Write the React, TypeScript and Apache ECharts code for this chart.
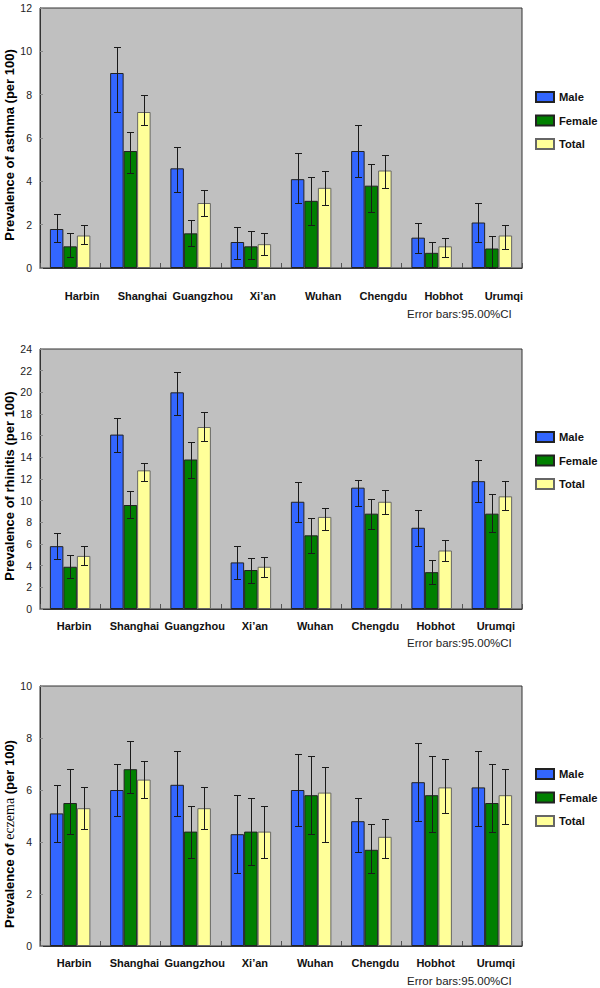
import React, { useEffect, useRef } from "react";
import * as echarts from "echarts";

const categories = ["Harbin", "Shanghai", "Guangzhou", "Xi’an", "Wuhan", "Chengdu", "Hobhot", "Urumqi"];
const seriesNames = ["Male", "Female", "Total"];

const asthmaMale = [1.8, 9.0, 4.6, 1.2, 4.1, 5.4, 1.4, 2.1];
const asthmaMaleLow = [1.2, 7.2, 3.5, 0.4, 3.0, 4.2, 0.7, 1.2];
const asthmaMaleHigh = [2.5, 10.2, 5.6, 1.9, 5.3, 6.6, 2.1, 3.0];
const asthmaFemale = [1.0, 5.4, 1.6, 1.0, 3.1, 3.8, 0.7, 0.9];
const asthmaFemaleLow = [0.5, 4.4, 1.0, 0.4, 2.0, 2.6, 0.05, 0.0];
const asthmaFemaleHigh = [1.6, 6.3, 2.2, 1.7, 4.2, 4.8, 1.2, 1.5];
const asthmaTotal = [1.5, 7.2, 3.0, 1.1, 3.7, 4.5, 1.0, 1.5];
const asthmaTotalLow = [1.1, 6.6, 2.4, 0.6, 2.9, 3.7, 0.5, 0.9];
const asthmaTotalHigh = [2.0, 8.0, 3.6, 1.6, 4.5, 5.2, 1.4, 2.0];

const rhinitisMale = [5.8, 16.1, 20.0, 4.3, 9.9, 11.2, 7.5, 11.8];
const rhinitisMaleLow = [4.6, 14.5, 17.9, 2.8, 8.0, 9.5, 5.8, 9.9];
const rhinitisMaleHigh = [7.0, 17.6, 21.9, 5.8, 11.7, 11.9, 9.1, 13.8];
const rhinitisFemale = [3.9, 9.6, 13.8, 3.6, 6.8, 8.8, 3.4, 8.8];
const rhinitisFemaleLow = [2.9, 8.4, 12.1, 2.4, 5.2, 7.4, 2.3, 7.1];
const rhinitisFemaleHigh = [5.0, 10.9, 15.4, 4.7, 8.4, 10.2, 4.5, 10.6];
const rhinitisTotal = [4.9, 12.8, 16.8, 3.9, 8.5, 9.9, 5.4, 10.4];
const rhinitisTotalLow = [4.1, 11.8, 15.5, 3.0, 7.3, 8.8, 4.4, 9.1];
const rhinitisTotalHigh = [5.8, 13.5, 18.2, 4.8, 9.3, 11.0, 6.4, 11.8];

const eczemaMale = [5.1, 6.0, 6.2, 4.3, 6.0, 4.8, 6.3, 6.1];
const eczemaMaleLow = [4.0, 5.0, 5.0, 2.8, 4.6, 3.6, 4.8, 4.6];
const eczemaMaleHigh = [6.2, 7.0, 7.5, 5.8, 7.4, 5.7, 7.8, 7.5];
const eczemaFemale = [5.5, 6.8, 4.4, 4.4, 5.8, 3.7, 5.8, 5.5];
const eczemaFemaleLow = [4.3, 5.9, 3.4, 3.1, 4.3, 2.8, 4.4, 4.4];
const eczemaFemaleHigh = [6.8, 7.9, 5.4, 5.7, 7.3, 4.7, 7.3, 7.0];
const eczemaTotal = [5.3, 6.4, 5.3, 4.4, 5.9, 4.2, 6.1, 5.8];
const eczemaTotalLow = [4.5, 5.7, 4.5, 3.4, 4.0, 3.4, 5.1, 4.7];
const eczemaTotalHigh = [6.1, 7.1, 6.1, 5.4, 6.9, 4.9, 7.2, 6.8];

const yMax = [12, 24, 10];
const yInterval = [2, 2, 2];
const footnote = "Error bars:95.00%CI";

const FONT = "'Liberation Sans', Arial, sans-serif";
const colors = ["#3366FF", "#008000", "#FFFF99"];
const borders = ["#222222", "#222222", "#666666"];
const BAR_W = 13.5;

const panels = [
  {
    values: [asthmaMale, asthmaFemale, asthmaTotal],
    lows: [asthmaMaleLow, asthmaFemaleLow, asthmaTotalLow],
    highs: [asthmaMaleHigh, asthmaFemaleHigh, asthmaTotalHigh],
  },
  {
    values: [rhinitisMale, rhinitisFemale, rhinitisTotal],
    lows: [rhinitisMaleLow, rhinitisFemaleLow, rhinitisTotalLow],
    highs: [rhinitisMaleHigh, rhinitisFemaleHigh, rhinitisTotalHigh],
  },
  {
    values: [eczemaMale, eczemaFemale, eczemaTotal],
    lows: [eczemaMaleLow, eczemaFemaleLow, eczemaTotalLow],
    highs: [eczemaMaleHigh, eczemaFemaleHigh, eczemaTotalHigh],
  },
];

const gridTops = [8, 349, 686];
const GRID_H = 260;
const labelMargins = [22, 11, 11];
const labelShift = [24, 8, 8];
const legendTops = [91, 431, 768];
const footY = [315, 644, 982];

const titleA = { fontWeight: "bold", fontSize: 13, fontFamily: FONT, color: "#000" };

export default function App() {
  const ref = useRef<HTMLDivElement>(null);
  useEffect(() => {
    if (!ref.current) return;
    const chart = echarts.init(ref.current, null, { renderer: "svg" });

    const grid = gridTops.map((t) => ({
      left: 40,
      right: 78,
      top: t,
      height: GRID_H,
      containLabel: false,
      outerBoundsMode: "none",
      show: true,
      backgroundColor: "#C0C0C0",
      borderColor: "#333",
      borderWidth: 1,
    }));

    const xAxis = gridTops.map((_, i) => ({
      type: "category",
      gridIndex: i,
      data: categories,
      axisLine: { lineStyle: { color: "#333", width: 1 } },
      axisTick: { show: true, inside: true, length: 5, lineStyle: { color: "#555" } },
      axisLabel: {
        interval: 0,
        margin: labelMargins[i],
        padding: [0, 0, 0, labelShift[i]],
        fontFamily: FONT,
        fontWeight: "bold",
        fontSize: 11,
        color: "#111",
      },
    }));

    const names = [
      "{a|Prevalence of asthma (per 100)}",
      "{a|Prevalence of rhinitis (per 100)}",
      "{a|Prevalence of }{b|eczema}{a| (per 100)}",
    ];
    const namePads = [
      [0, 14, 0, 0],
      [0, 14, 0, 0],
      [0, 36, 0, 0],
    ];
    const yAxis = gridTops.map((_, i) => ({
      type: "value",
      gridIndex: i,
      min: 0,
      max: yMax[i],
      interval: yInterval[i],
      name: names[i],
      nameLocation: "middle",
      nameGap: 24,
      nameMoveOverlap: false,
      nameTextStyle: {
        padding: namePads[i],
        rich: {
          a: titleA,
          b: { fontFamily: "'Liberation Serif', 'Times New Roman', serif", fontSize: 14, color: "#000" },
        },
      },
      axisLine: { show: true, lineStyle: { color: "#333" } },
      axisTick: { show: true, inside: true, length: 3, lineStyle: { color: "#888" } },
      splitLine: { show: false },
      axisLabel: { fontFamily: FONT, fontSize: 10.5, color: "#222", margin: 8 },
    }));

    const series: any[] = [];
    panels.forEach((p, gi) => {
      p.values.forEach((vals, si) => {
        series.push({
          type: "bar",
          name: seriesNames[si],
          xAxisIndex: gi,
          yAxisIndex: gi,
          data: vals,
          barWidth: BAR_W,
          barGap: "0%",
          itemStyle: { color: colors[si], borderColor: borders[si], borderWidth: 1 },
        });
      });
      p.values.forEach((_, si) => {
        const offset = (si - 1) * BAR_W;
        series.push({
          type: "custom",
          name: "err" + gi + si,
          xAxisIndex: gi,
          yAxisIndex: gi,
          z: 10,
          data: categories.map((_, ci) => [ci, p.lows[si][ci], p.highs[si][ci]]),
          renderItem: (params: any, api: any) => {
            const ci = api.value(0);
            const lo = api.coord([ci, api.value(1)]);
            const hi = api.coord([ci, api.value(2)]);
            const x = Math.round(lo[0] + offset) + 0.5;
            const yl = Math.round(lo[1]) + 0.5;
            const yh = Math.round(hi[1]) + 0.5;
            const st = { stroke: "#1a1a1a", lineWidth: 1 };
            return {
              type: "group",
              children: [
                { type: "line", shape: { x1: x, y1: yh, x2: x, y2: yl }, style: st },
                { type: "line", shape: { x1: x - 3.5, y1: yh, x2: x + 3.5, y2: yh }, style: st },
                { type: "line", shape: { x1: x - 3.5, y1: yl, x2: x + 3.5, y2: yl }, style: st },
              ],
            };
          },
        });
      });
    });

    const legend = legendTops.map((t) => ({
      data: seriesNames,
      orient: "vertical",
      left: 535,
      top: t,
      padding: 0,
      itemWidth: 18,
      itemHeight: 10,
      itemGap: 11.5,
      icon: "rect",
      selectedMode: false,
      textStyle: { fontFamily: FONT, fontWeight: "bold", fontSize: 11.2, color: "#111" },
    }));

    const graphic = footY.map((y) => ({
      type: "text",
      left: 407,
      top: y - 7,
      style: { text: footnote, font: `11.5px ${FONT}`, fill: "#222" },
    }));

    chart.setOption({
      animation: false,
      backgroundColor: "#fff",
      grid,
      xAxis,
      yAxis,
      legend,
      series,
      graphic,
    });
    return () => chart.dispose();
  }, []);

  return <div ref={ref} style={{ position: "fixed", left: 0, top: 0, width: 600, height: 988 }} />;
}
